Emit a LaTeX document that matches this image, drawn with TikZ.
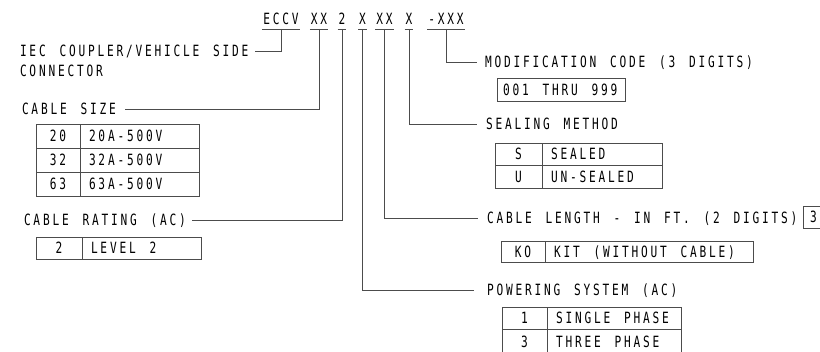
\documentclass[tikz,border=0pt]{standalone}
\usepackage{fontspec}
\newfontfamily\draftfont{DejaVu Sans Mono}[FakeStretch=0.72,LetterSpace=18,WordSpace=1.45]
\usetikzlibrary{positioning}
\definecolor{linegray}{gray}{0.3}

\begin{document}
\begin{tikzpicture}[
        x=1pt, y=-1pt,
        every node/.style={font=\draftfont\fontsize{15.5}{18}\selectfont, inner sep=0pt, outer sep=0pt, text height=11.4pt, text depth=0pt},
        codepart/.style={inner xsep=1pt, inner ysep=4pt, anchor=south},
        partlabel/.style={anchor=west},
        cell/.style={draw=linegray, line width=0.8pt, anchor=north west},
        codecell/.style 2 args={cell, minimum width=#1, minimum height=#2},
        desccell/.style 2 args={cell, text width=#1-18pt, minimum height=#2, inner xsep=9pt, align=left,
            execute at begin node={\spaceskip=0pt\xspaceskip=0pt\relax}},
        lead/.style={draw=linegray, line width=0.8pt}
    ]
        \useasboundingbox (0,0) rectangle (820,352);

        % Part number
        \node[codepart] (eccv) at (281,29) {ECCV};
        \node[codepart] (xxa) at (319,29) {XX};
        \node[codepart] (two) at (342,29) {2};
        \node[codepart] (xa) at (362.5,29) {X};
        \node[codepart] (xxb) at (384.5,29) {XX};
        \node[codepart] (xb) at (409,29) {X};
        \node[codepart] (dash) at (446,29) {-XXX};
        \foreach \p in {eccv,xxa,two,xa,xxb,xb,dash}
            \draw[lead] (\p.south west) -- (\p.south east);

        % Left side labels
        \node[partlabel] (iec) at (20,51) {IEC COUPLER/VEHICLE SIDE};
        \node[partlabel, below=8.6pt of iec.south west, anchor=north west] (iecb) {CONNECTOR};
        \node[partlabel] (size) at (22,109) {CABLE SIZE};
        \node[partlabel] (rating) at (24,220) {CABLE RATING (AC)};

        % Right side labels
        \node[partlabel] (mod) at (485,62) {MODIFICATION CODE (3 DIGITS)};
        \node[partlabel] (seal) at (486,124) {SEALING METHOD};
        \node[partlabel] (length) at (487,218) {CABLE LENGTH - IN FT. (2 DIGITS)};
        \node[partlabel] (power) at (487,290) {POWERING SYSTEM (AC)};

        % Cable size table
        \node[codecell={44pt}{24pt}] (sz20) at (36,124) {20};
        \node[desccell={119pt}{24pt}, right=0pt of sz20] (sz20d) {20A-500V};
        \node[codecell={44pt}{24pt}, below=0pt of sz20] (sz32) {32};
        \node[desccell={119pt}{24pt}, right=0pt of sz32] (sz32d) {32A-500V};
        \node[codecell={44pt}{24pt}, below=0pt of sz32] (sz63) {63};
        \node[desccell={119pt}{24pt}, right=0pt of sz63] (sz63d) {63A-500V};

        % Cable rating table
        \node[codecell={46pt}{22pt}] (lv2) at (36,237) {2};
        \node[desccell={119pt}{22pt}, right=0pt of lv2] (lv2d) {LEVEL 2};

        % Modification code box
        \node[desccell={134pt}{23pt}, inner xsep=6pt] (range) at (497,78) {001 THRU 999};

        % Sealing method table
        \node[codecell={47pt}{22.5pt}] (sls) at (495,143) {S};
        \node[desccell={120pt}{22.5pt}, right=0pt of sls] (slsd) {SEALED};
        \node[codecell={47pt}{22.5pt}, below=0pt of sls] (slu) {U};
        \node[desccell={120pt}{22.5pt}, right=0pt of slu] (slud) {UN-SEALED};

        % Cable length
        \node[desccell={30pt}{22pt}, inner xsep=7pt] (len3) at (803,206) {3};
        \node[codecell={44pt}{21pt}] (kit) at (501,241) {KO};
        \node[desccell={208pt}{21pt}, right=0pt of kit] (kitd) {KIT (WITHOUT CABLE)};

        % Powering system table (runs off the sheet)
        \node[codecell={45pt}{22pt}] (ph1) at (502,307) {1};
        \node[desccell={134pt}{22pt}, right=0pt of ph1] (ph1d) {SINGLE PHASE};
        \node[codecell={45pt}{22pt}, below=0pt of ph1, yshift=-2pt, draw=none] (ph3) {3};
        \node[desccell={134pt}{22pt}, right=0pt of ph3, draw=none] (ph3d) {THREE PHASE};
        \draw[lead] (ph1.south west) -- ++(0,30) (ph1.south east) -- ++(0,30) (ph1d.south east) -- ++(0,30);

        % Leader lines
        \draw[lead] (eccv.south) |- ([xshift=7pt]iec.east);
        \draw[lead] (xxa.south) |- ([xshift=9pt]size.east);
        \draw[lead] (two.south) |- ([xshift=6pt]rating.east);
        \draw[lead] (xa.south) |- ([xshift=-13pt]power.west);
        \draw[lead] (xxb.south) |- ([xshift=-9pt]length.west);
        \draw[lead] (xb.south) |- ([xshift=-9pt]seal.west);
        \draw[lead] (dash.south) |- ([xshift=-8pt]mod.west);
    \end{tikzpicture}
\end{document}
